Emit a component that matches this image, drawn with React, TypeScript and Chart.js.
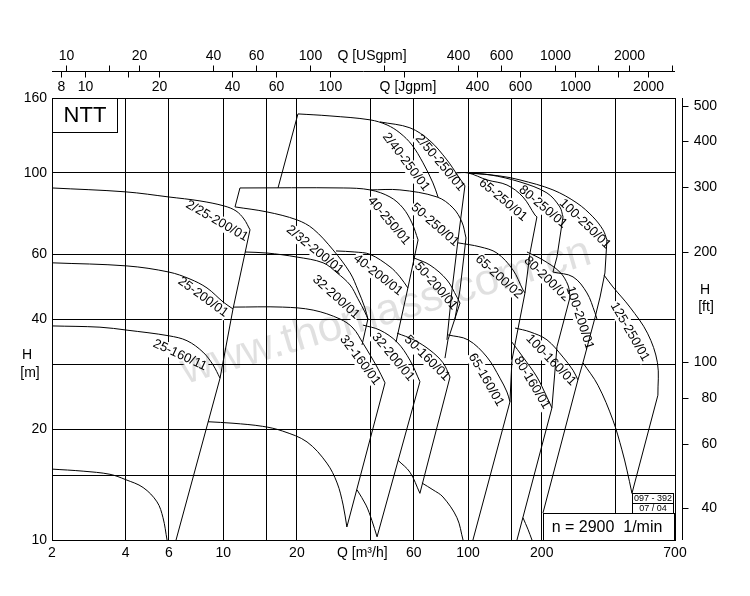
import React, { useEffect, useRef } from 'react';
import { Chart, registerables } from 'chart.js';

Chart.register(...registerables);

const FONT = '"Liberation Sans", Arial, Helvetica, sans-serif';

// ---- axes ----
const xGrid = [2, 4, 6, 10, 15, 20, 40, 60, 100, 150, 200, 400, 700];
const xLabels = [2, 4, 6, 10, 20, 60, 100, 200, 700];
const yGrid = [10, 15, 20, 30, 40, 60, 100, 160];
const yLabels = [10, 20, 40, 60, 100, 160];
const ftTicks = [40, 60, 80, 100, 200, 300, 400, 500];
const usTicks = [10, 15, 20, 40, 60, 100, 200, 400, 600, 1000, 1500, 2000, 3000];
const usLabels = [10, 20, 40, 60, 100, 400, 600, 1000, 2000];
const igTicks = [8, 10, 15, 20, 40, 60, 100, 200, 400, 600, 1000, 1500, 2000];
const igLabels = [8, 10, 20, 40, 60, 100, 400, 600, 1000, 2000];
const FT_PER_M = 3.2808;
const USGPM_PER_M3H = 4.4029;
const IGPM_PER_M3H = 3.6662;

type Pt = [number, number];

// ---- curves: [Q m3/h, H m] ----
const c2_25_200: Pt[] = [[2, 91.0], [4.0, 88.8], [6.0, 86.0], [8.04, 83.9], [10.08, 81.3], [11.28, 78.8], [12.16, 74.9], [12.87, 70.0]];
const edge25: Pt[] = [[12.87, 70.0], [10.97, 42.6], [9.71, 27.6], [6.42, 10]];
const c25_200: Pt[] = [[2, 56.9], [4.05, 55.8], [6.0, 53.7], [7.32, 51.4], [8.59, 48.6], [10.0, 44.5], [10.97, 42.6]];
const c25_160_top: Pt[] = [[2, 38.3], [3.14, 38.0], [4.05, 37.3], [6.0, 36.0], [7.12, 34.9], [8.27, 32.5], [9.09, 30.0], [9.71, 27.6]];
const c25_160_bot: Pt[] = [[2, 15.6], [2.68, 15.4], [3.45, 15.1], [4.0, 14.6], [4.71, 13.9], [5.37, 12.7], [5.68, 11.5], [5.9, 10]];
const c32_160_bot: Pt[] = [[8.67, 21.0], [10.97, 20.8], [14.5, 20.4], [17.5, 19.8], [22.0, 18.5], [26.5, 16.2], [29.2, 14.3], [30.9, 12.45], [32.0, 10.85]];
const c32_160_top: Pt[] = [[10.97, 43.1], [17.5, 43.1], [23.3, 42.3], [30.0, 40.0], [33.9, 37.8], [37.2, 34.4], [42.5, 29.6], [45.8, 26.8]];
const edge32_160: Pt[] = [[45.8, 26.8], [32.0, 10.85]];
const c32_200_up: Pt[] = [[12.28, 60.9], [15.1, 60.5], [20.0, 59.0], [25.6, 56.9], [29.2, 53.4], [33.0, 49.5], [35.5, 45.4], [37.9, 41.8], [39.0, 40.0]];
const c2_32_200: Pt[] = [[11.18, 80.8], [15.1, 78.3], [20.0, 74.5], [23.3, 70.4], [28.1, 61.7], [33.0, 53.4], [35.5, 48.0], [37.9, 42.9], [39.0, 40.0]];
const link2_32: Pt[] = [[11.18, 80.8], [11.71, 91.0]];
const link32_200: Pt[] = [[39.0, 40.0], [36.9, 34.0]];
const c40_250: Pt[] = [[11.71, 91.0], [30.9, 91.0], [39.8, 89.9], [48.0, 86.0], [54.2, 80.3], [59.0, 73.1], [62.5, 65.7]];
const edge40_250: Pt[] = [[62.5, 65.7], [56.8, 48.6], [50.8, 34.6]];
const c40_200: Pt[] = [[28.9, 61.3], [34.5, 60.9], [39.8, 60.0], [48.0, 55.5], [52.7, 52.1], [56.8, 48.6]];
const link2_40: Pt[] = [[16.75, 91.0], [20.2, 144.8]];
const c2_40_250: Pt[] = [[20.2, 144.8], [27.3, 143.0], [39.8, 139.5], [46.7, 135.1], [52.7, 128.5], [59.0, 119.2], [65.5, 106.5], [71.9, 93.9], [75.4, 86.0]];
const c2_50_250: Pt[] = [[43.7, 137.7], [57.9, 132.7], [69.9, 122.3], [82.0, 108.5], [91.0, 98.1], [97.1, 92.2]];
const edge2_50: Pt[] = [[97.1, 92.2], [91.0, 65.7], [86.0, 48.0], [82.0, 35.1]];
const c50_250: Pt[] = [[39.8, 89.9], [52.7, 89.9], [74.7, 86.0], [86.8, 80.3], [94.4, 73.5], [98.1, 66.5]];
const edge50_250: Pt[] = [[98.1, 66.5], [92.7, 48.0], [88.4, 40.0]];
const c50_200: Pt[] = [[60.0, 58.7], [69.9, 56.1], [82.0, 51.1], [90.1, 45.9], [92.7, 44.2]];
const edge50_200: Pt[] = [[92.7, 44.2], [82.8, 35.1], [80.5, 31.3]];
const c50_160_top: Pt[] = [[51.3, 36.6], [60.0, 35.1], [69.9, 32.9], [79.0, 30.4], [84.4, 27.8]];
const edge50_160: Pt[] = [[84.4, 27.8], [63.6, 13.4]];
const c50_160_bot: Pt[] = [[51.7, 16.5], [57.9, 15.3], [63.6, 13.4]];
const c32_200_low_top: Pt[] = [[37.2, 38.5], [43.7, 37.3], [51.3, 34.6], [57.9, 30.9], [63.6, 27.0]];
const edge32_200_low: Pt[] = [[63.6, 27.0], [42.5, 10.2]];
const c32_200_low_bot: Pt[] = [[35.2, 13.7], [38.3, 12.45], [40.5, 11.3], [42.5, 10.2]];
const c65_160_top: Pt[] = [[82.8, 36.2], [100, 35.1], [119.5, 31.5], [135, 27.6], [144.2, 25.3], [148.3, 23.8]];
const c65_160_bot: Pt[] = [[64.8, 14.3], [71.9, 13.7], [79.0, 13.1], [90.1, 11.5], [95.4, 10]];
const c65_250: Pt[] = [[88.4, 100], [100, 100], [119.5, 95.7], [144.2, 92.7], [167.6, 86.0], [187.6, 76.8], [191.1, 75.9]];
const edge65: Pt[] = [[191.1, 75.9], [179, 60.5], [170.8, 47.1], [151.1, 30.9], [148.3, 23.8], [104.7, 10]];
const c65_200: Pt[] = [[91.0, 64.5], [111.9, 62.9], [131.2, 60.5], [152.6, 54.4], [167.6, 48.0], [170.8, 47.1]];
const c80_250: Pt[] = [[100, 100], [122.9, 98.8], [163, 94.5], [210, 88.2], [237, 80.8], [244.2, 75.9]];
const edge80_up: Pt[] = [[244.2, 75.9], [230.7, 59.0], [222.2, 53.7]];
const c100_250: Pt[] = [[100, 100], [135, 98.1], [163, 95.7], [222.2, 89.9], [278.4, 82.8], [323.6, 75.9], [355.6, 70.0], [369.2, 65.7]];
const edge100: Pt[] = [[369.2, 65.7], [362.2, 53.4], [346, 45.9], [329.8, 40.3], [294.6, 30.4], [281.0, 27.3], [202.3, 11.85]];
const c80_200: Pt[] = [[174.0, 60.9], [202.3, 57.9], [237, 53.7], [255.8, 49.5], [261, 45.9]];
const edge80_low: Pt[] = [[261, 45.9], [230.7, 33.6], [220, 22.9], [158.4, 10]];
const c100_200: Pt[] = [[222.2, 53.7], [268.3, 52.1], [305.9, 47.1], [329.8, 41.6], [336, 40.0]];
const c80_160: Pt[] = [[151.1, 34.6], [167.6, 31.5], [191.1, 27.8], [210, 24.5], [220, 22.9]];
const c100_160: Pt[] = [[155.5, 37.8], [179, 36.9], [210, 35.1], [244.2, 31.5], [268.3, 29.0], [281.0, 27.3]];
const c100_160_bot: Pt[] = [[167.6, 11.5], [175.6, 10.7], [182.4, 10]];
const c125_250: Pt[] = [[359, 52.7], [390.6, 48.9], [458, 43.1], [540.4, 36.6], [593.6, 30.4], [596, 24.8]];
const edge125: Pt[] = [[596, 24.8], [467, 13.4]];
const c125_bot: Pt[] = [[294.6, 30.4], [339.2, 26.4], [390.6, 21.2], [425, 17.6], [445.6, 15.5], [467, 13.4]];

const curves: { pts: Pt[]; smooth: boolean }[] = [
  { pts: c2_25_200, smooth: true }, { pts: edge25, smooth: false }, { pts: c25_200, smooth: true },
  { pts: c25_160_top, smooth: true }, { pts: c25_160_bot, smooth: true }, { pts: c32_160_bot, smooth: true },
  { pts: c32_160_top, smooth: true }, { pts: edge32_160, smooth: false }, { pts: c32_200_up, smooth: true },
  { pts: c2_32_200, smooth: true }, { pts: link2_32, smooth: false }, { pts: link32_200, smooth: false },
  { pts: c40_250, smooth: true }, { pts: edge40_250, smooth: false }, { pts: c40_200, smooth: true },
  { pts: link2_40, smooth: false }, { pts: c2_40_250, smooth: true }, { pts: c2_50_250, smooth: true },
  { pts: edge2_50, smooth: false }, { pts: c50_250, smooth: true }, { pts: edge50_250, smooth: false },
  { pts: c50_200, smooth: true }, { pts: edge50_200, smooth: false }, { pts: c50_160_top, smooth: true },
  { pts: edge50_160, smooth: false }, { pts: c50_160_bot, smooth: true }, { pts: c32_200_low_top, smooth: true },
  { pts: edge32_200_low, smooth: false }, { pts: c32_200_low_bot, smooth: true }, { pts: c65_160_top, smooth: true },
  { pts: c65_160_bot, smooth: true }, { pts: c65_250, smooth: true }, { pts: edge65, smooth: false },
  { pts: c65_200, smooth: true }, { pts: c80_250, smooth: true }, { pts: edge80_up, smooth: false },
  { pts: c100_250, smooth: true }, { pts: edge100, smooth: false }, { pts: c80_200, smooth: true },
  { pts: edge80_low, smooth: false }, { pts: c100_200, smooth: true }, { pts: c80_160, smooth: true },
  { pts: c100_160, smooth: true }, { pts: c100_160_bot, smooth: true }, { pts: c125_250, smooth: true },
  { pts: edge125, smooth: false }, { pts: c125_bot, smooth: true },
];

// ---- curve labels: text, Q, H, angle (deg) ----
const curveLabels = [
  { text: '2/25-200/01', q: 9.43, h: 74.0, a: 30 },
  { text: '25-200/01', q: 8.27, h: 45.9, a: 36 },
  { text: '25-160/11', q: 6.66, h: 31.9, a: 25 },
  { text: '2/32-200/01', q: 23.7, h: 61.7, a: 39 },
  { text: '32-200/01', q: 28.9, h: 45.9, a: 42 },
  { text: '40-200/01', q: 42.9, h: 52.7, a: 38 },
  { text: '40-250/01', q: 47.5, h: 74.0, a: 50 },
  { text: '50-250/01', q: 73.3, h: 72.2, a: 41 },
  { text: '50-200/01', q: 74.0, h: 49.2, a: 49 },
  { text: '2/40-250/01', q: 55.8, h: 107.1, a: 53 },
  { text: '2/50-250/01', q: 76.8, h: 106.5, a: 50 },
  { text: '65-250/01', q: 138.9, h: 84.4, a: 40 },
  { text: '80-250/01', q: 202.3, h: 80.8, a: 40 },
  { text: '100-250/01', q: 300.3, h: 72.6, a: 44 },
  { text: '65-200/02', q: 133.8, h: 52.1, a: 42 },
  { text: '80-200/02', q: 210, h: 51.4, a: 44 },
  { text: '100-200/01', q: 286, h: 40.3, a: 72 },
  { text: '125-250/01', q: 458, h: 36.9, a: 60 },
  { text: '65-160/01', q: 118.4, h: 27.3, a: 60 },
  { text: '80-160/01', q: 182.4, h: 26.8, a: 59 },
  { text: '100-160/01', q: 218, h: 30.9, a: 46 },
  { text: '50-160/01', q: 68.0, h: 31.3, a: 45 },
  { text: '32-200/01', q: 49.4, h: 31.5, a: 50 },
  { text: '32-160/01', q: 36.2, h: 30.9, a: 53 },
];

const deco = {
  id: 'deco',
  beforeDatasetsDraw(chart: any) {
    const ctx = chart.ctx as CanvasRenderingContext2D;
    const xs = chart.scales.x;
    const ys = chart.scales.y;
    ctx.save();
    ctx.font = `13px ${FONT}`;
    ctx.textAlign = 'center';
    ctx.textBaseline = 'middle';
    for (const l of curveLabels) {
      const px = xs.getPixelForValue(l.q);
      const py = ys.getPixelForValue(l.h);
      ctx.save();
      ctx.translate(px, py);
      ctx.rotate((l.a * Math.PI) / 180);
      const w = ctx.measureText(l.text).width;
      ctx.fillStyle = '#fff';
      ctx.fillRect(-w / 2 - 1, -7, w + 2, 14);
      ctx.fillStyle = '#000';
      ctx.fillText(l.text, 0, 0);
      ctx.restore();
    }
    // watermark
    ctx.save();
    ctx.translate(386, 312);
    ctx.rotate((-16.5 * Math.PI) / 180);
    ctx.font = `44px ${FONT}`;
    ctx.fillStyle = 'rgba(0,0,0,0.12)';
    ctx.fillText('www.thomass.com.cn', 0, 0);
    ctx.restore();
    ctx.restore();
  },
  afterDraw(chart: any) {
    const ctx = chart.ctx as CanvasRenderingContext2D;
    const xs = chart.scales.x;
    const ys = chart.scales.y;
    ctx.save();
    ctx.strokeStyle = '#000';
    ctx.fillStyle = '#000';
    ctx.lineWidth = 1;
    ctx.font = `14px ${FONT}`;
    ctx.textAlign = 'center';
    ctx.textBaseline = 'middle';

    // top axes
    const axY = 71.5;
    ctx.beginPath();
    ctx.moveTo(xs.left, axY);
    ctx.lineTo(xs.right, axY);
    ctx.stroke();
    for (const v of usTicks) {
      const px = Math.round(xs.getPixelForValue(v / USGPM_PER_M3H)) + 0.5;
      ctx.beginPath();
      ctx.moveTo(px, axY - 6);
      ctx.lineTo(px, axY);
      ctx.stroke();
      if (usLabels.includes(v)) ctx.fillText(String(v), px, 56);
    }
    ctx.fillText('Q [USgpm]', 372, 56);
    for (const v of igTicks) {
      const px = Math.round(xs.getPixelForValue(v / IGPM_PER_M3H)) + 0.5;
      ctx.beginPath();
      ctx.moveTo(px, axY);
      ctx.lineTo(px, axY + 6);
      ctx.stroke();
      if (igLabels.includes(v)) ctx.fillText(String(v), px, 87);
    }
    ctx.fillText('Q [Jgpm]', 408, 87);

    // right axis (ft)
    const rx = 682.5;
    ctx.beginPath();
    ctx.moveTo(rx, ys.top);
    ctx.lineTo(rx, ys.bottom);
    ctx.stroke();
    ctx.textAlign = 'right';
    for (const f of ftTicks) {
      const py = Math.round(ys.getPixelForValue(f / FT_PER_M)) + 0.5;
      ctx.beginPath();
      ctx.moveTo(rx, py);
      ctx.lineTo(rx + 6, py);
      ctx.stroke();
      ctx.fillText(String(f), 717, py);
    }
    ctx.textAlign = 'center';
    ctx.fillText('H', 705, 290);
    ctx.fillText('[ft]', 706, 307);

    // left axis title
    ctx.fillText('H', 27, 355);
    ctx.fillText('[m]', 30, 373);
    // bottom axis title
    ctx.fillText('Q [m³/h]', xs.getPixelForValue(37), 553);

    // NTT box
    ctx.fillStyle = '#fff';
    ctx.fillRect(52.5, 98.5, 65, 34);
    ctx.strokeRect(52.5, 98.5, 65, 34);
    ctx.fillStyle = '#000';
    ctx.font = `22px ${FONT}`;
    ctx.fillText('NTT', 85, 116);

    // speed box
    ctx.fillStyle = '#fff';
    ctx.fillRect(543.5, 513.5, 131, 27);
    ctx.strokeRect(543.5, 513.5, 131, 27);
    ctx.fillStyle = '#000';
    ctx.font = `16px ${FONT}`;
    ctx.fillText('n = 2900  1/min', 607, 528);

    // small reference boxes
    ctx.fillStyle = '#fff';
    ctx.fillRect(632.5, 493.5, 41, 10);
    ctx.strokeRect(632.5, 493.5, 41, 10);
    ctx.fillRect(632.5, 503.5, 41, 10);
    ctx.strokeRect(632.5, 503.5, 41, 10);
    ctx.fillStyle = '#000';
    ctx.font = `9px ${FONT}`;
    ctx.fillText('097 - 392', 653, 499);
    ctx.fillText('07 / 04', 653, 509);
    ctx.restore();
  },
};

export default function App() {
  const ref = useRef<HTMLCanvasElement>(null);
  useEffect(() => {
    const canvas = ref.current;
    if (!canvas) return;
    const datasets = curves.map((c) => ({
      data: c.pts.map(([x, y]) => ({ x, y })),
      showLine: true,
      borderColor: '#000',
      borderWidth: 1,
      pointRadius: 0,
      pointHoverRadius: 0,
      tension: c.smooth ? 0.35 : 0,
      fill: false,
    }));
    const chart = new Chart(canvas, {
      type: 'scatter',
      data: { datasets },
      options: {
        responsive: false,
        animation: false,
        devicePixelRatio: 1,
        events: [],
        layout: { padding: { top: 98, right: 75, left: 0, bottom: 0 } },
        plugins: { legend: { display: false }, tooltip: { enabled: false } },
        scales: {
          x: {
            type: 'logarithmic',
            min: 2,
            max: 700,
            afterBuildTicks: (s: any) => {
              s.ticks = xGrid.map((v) => ({ value: v }));
            },
            afterFit: (s: any) => {
              s.height = 56;
            },
            grid: { color: '#000', lineWidth: 1, drawTicks: false },
            border: { color: '#000', width: 1 },
            ticks: {
              autoSkip: false,
              maxRotation: 0,
              padding: 5,
              color: '#000',
              font: { size: 14, family: FONT },
              callback: (v: any) => (xLabels.includes(Number(v)) ? String(v) : ''),
            },
          },
          y: {
            type: 'logarithmic',
            min: 10,
            max: 160,
            afterBuildTicks: (s: any) => {
              s.ticks = yGrid.map((v) => ({ value: v }));
            },
            afterFit: (s: any) => {
              s.width = 52;
            },
            grid: { color: '#000', lineWidth: 1, drawTicks: false },
            border: { color: '#000', width: 1 },
            ticks: {
              autoSkip: false,
              padding: 5,
              color: '#000',
              font: { size: 14, family: FONT },
              callback: (v: any) => (yLabels.includes(Number(v)) ? String(v) : ''),
            },
          },
        },
      } as any,
      plugins: [deco],
    });
    return () => chart.destroy();
  }, []);
  return (
    <div style={{ position: 'absolute', left: 0, top: 0, width: 750, height: 596, background: '#fff' }}>
      <canvas ref={ref} width={750} height={596} style={{ display: 'block' }} />
    </div>
  );
}
